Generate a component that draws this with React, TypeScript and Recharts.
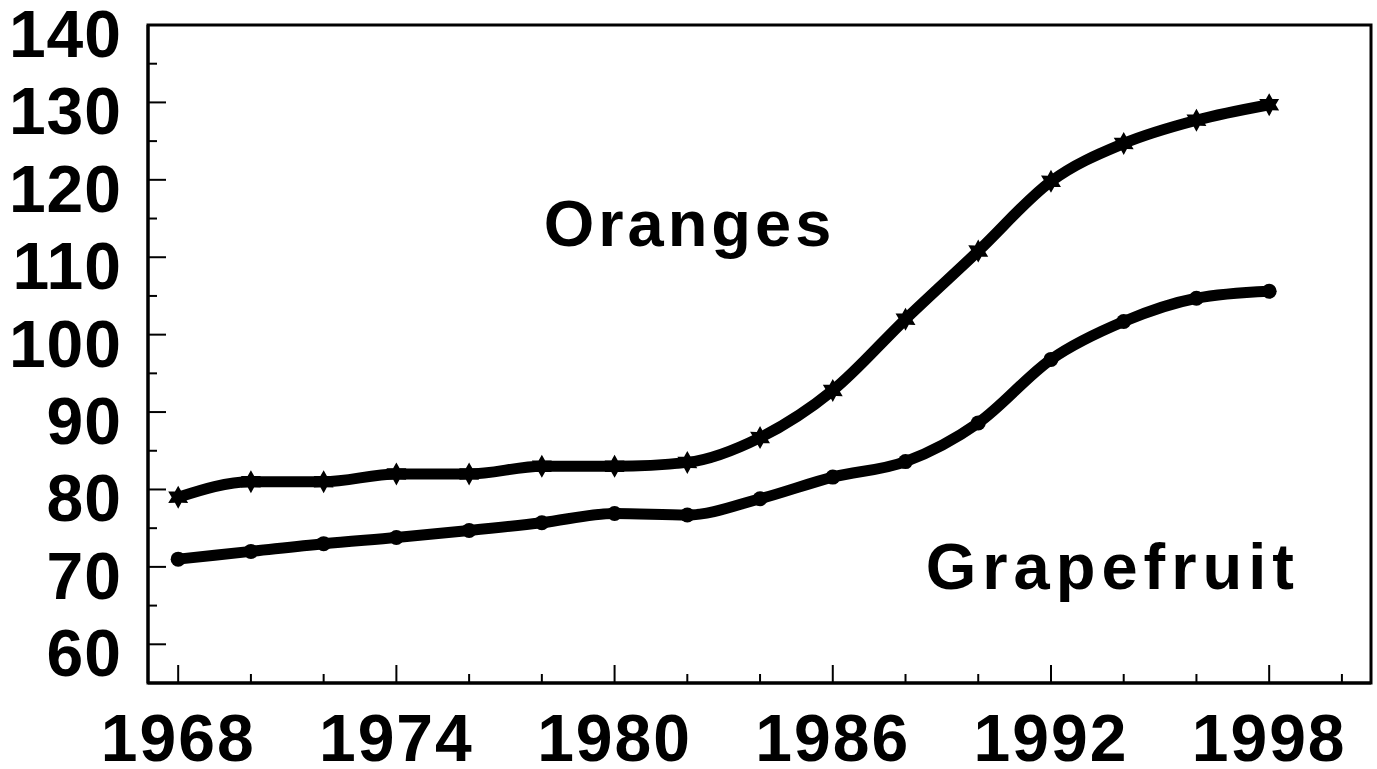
import { LineChart, Line, XAxis, YAxis, ReferenceArea, ReferenceDot } from 'recharts';

const years = [1968, 1970, 1972, 1974, 1976, 1978, 1980, 1982, 1984, 1986, 1988, 1990, 1992, 1994, 1996, 1998];
const oranges = [79, 81, 81, 82, 82, 83, 83, 83.5, 86.7, 92.8, 102, 110.8, 119.8, 124.7, 127.7, 129.7];
const grapefruit = [71, 72, 73, 73.8, 74.7, 75.7, 76.9, 76.7, 78.8, 81.6, 83.6, 88.6, 96.8, 101.7, 104.7, 105.6];

const xTicks = [1968, 1970, 1972, 1974, 1976, 1978, 1980, 1982, 1984, 1986, 1988, 1990, 1992, 1994, 1996, 1998, 2000];
const xLabels = [1968, 1974, 1980, 1986, 1992, 1998];
const yTicks = [60, 65, 70, 75, 80, 85, 90, 95, 100, 105, 110, 115, 120, 125, 130, 135, 140];
const yLabels = [60, 70, 80, 90, 100, 110, 120, 130, 140];

const xDomain = [1967.17, 2000.8];
const yDomain = [55, 140];

const data = years.map((year, i) => ({ year, oranges: oranges[i], grapefruit: grapefruit[i] }));

const FONT = '"Liberation Sans", Arial, sans-serif';

function XTick({ x, y, payload }: any) {
  const major = xLabels.includes(payload.value);
  return (
    <g>
      <line x1={x} x2={x} y1={y} y2={y - (major ? 18 : 9)} stroke="#000" strokeWidth={2} />
      {major && (
        <text x={x} y={y + 78} textAnchor="middle" fontFamily={FONT} fontWeight="bold" fontSize={66} letterSpacing={2} fill="#000">
          {payload.value}
        </text>
      )}
    </g>
  );
}

function YTick({ x, y, payload }: any) {
  const major = yLabels.includes(payload.value);
  return (
    <g>
      <line x1={x} x2={x + (major ? 18 : 9)} y1={y} y2={y} stroke="#000" strokeWidth={2} />
      {major && (
        <text x={x - 26} y={y + 32} textAnchor="end" fontFamily={FONT} fontWeight="bold" fontSize={66} letterSpacing={1} fill="#000">
          {payload.value}
        </text>
      )}
    </g>
  );
}

function StarDot({ cx, cy }: any) {
  if (cx == null || cy == null) return null;
  const pts: string[] = [];
  for (let i = 0; i < 12; i++) {
    const r = i % 2 === 0 ? 11.5 : 6.5;
    const a = (Math.PI / 6) * i - Math.PI / 2;
    pts.push(`${cx + r * Math.cos(a)},${cy + r * Math.sin(a)}`);
  }
  return <polygon points={pts.join(' ')} fill="#000" />;
}

function RoundDot({ cx, cy }: any) {
  if (cx == null || cy == null) return null;
  return <circle cx={cx} cy={cy} r={7.5} fill="#000" />;
}

function TextLabel({ viewBox, value, spacing }: any) {
  return (
    <text
      x={viewBox.x}
      y={viewBox.y}
      textAnchor="middle"
      dominantBaseline="central"
      fontFamily={FONT}
      fontWeight="bold"
      fontSize={65}
      letterSpacing={spacing}
      fill="#000"
    >
      {value}
    </text>
  );
}

export default function App() {
  return (
    <div style={{ position: 'absolute', left: 0, top: 0, width: 1377, height: 769, background: '#fff' }}>
      <LineChart width={1377} height={769} data={data} margin={{ top: 25, right: 6, left: 0, bottom: 0 }}>
        <XAxis
          dataKey="year"
          type="number"
          domain={xDomain}
          ticks={xTicks}
          interval={0}
          allowDataOverflow
          height={86}
          tickSize={0}
          tickMargin={0}
          tickLine={false}
          axisLine={{ stroke: '#000', strokeWidth: 3 }}
          tick={<XTick />}
        />
        <YAxis
          type="number"
          domain={yDomain}
          ticks={yTicks}
          interval={0}
          allowDataOverflow
          width={148}
          tickSize={0}
          tickMargin={0}
          tickLine={false}
          axisLine={{ stroke: '#000', strokeWidth: 3 }}
          tick={<YTick />}
        />
        <ReferenceArea x1={xDomain[0]} x2={xDomain[1]} y1={yDomain[0]} y2={yDomain[1]} fill="none" fillOpacity={0} stroke="#000" strokeWidth={3} ifOverflow="visible" />
        <Line type="monotone" dataKey="oranges" stroke="#000" strokeWidth={11} dot={<StarDot />} activeDot={false} isAnimationActive={false} />
        <Line type="monotone" dataKey="grapefruit" stroke="#000" strokeWidth={11} dot={<RoundDot />} activeDot={false} isAnimationActive={false} />
        <ReferenceDot x={1982.06} y={114.3} r={0} fill="none" stroke="none" ifOverflow="visible" label={<TextLabel value="Oranges" spacing={4} />} />
        <ReferenceDot x={1993.7} y={70} r={0} fill="none" stroke="none" ifOverflow="visible" label={<TextLabel value="Grapefruit" spacing={6} />} />
      </LineChart>
    </div>
  );
}
